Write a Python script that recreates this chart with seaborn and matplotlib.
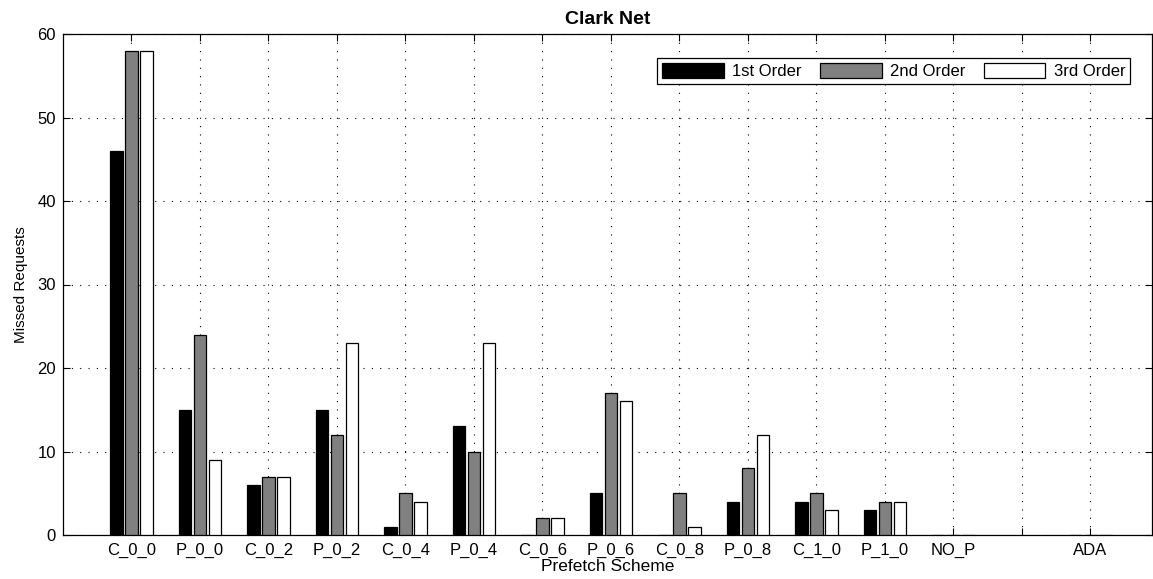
import matplotlib
matplotlib.use("Agg")
import matplotlib.pyplot as plt
import seaborn as sns
import pandas as pd
import numpy as np

# Tick slots along the x axis ('' = unlabeled slot)
tick_labels = ['C_0_0', 'P_0_0', 'C_0_2', 'P_0_2', 'C_0_4', 'P_0_4', 'C_0_6',
               'P_0_6', 'C_0_8', 'P_0_8', 'C_1_0', 'P_1_0', 'NO_P', '', 'ADA']
schemes = ['C_0_0', 'P_0_0', 'C_0_2', 'P_0_2', 'C_0_4', 'P_0_4', 'C_0_6',
           'P_0_6', 'C_0_8', 'P_0_8', 'C_1_0', 'P_1_0', 'NO_P', 'ADA']
first_order = [46, 15, 6, 15, 1, 13, 0, 5, 0, 4, 4, 3, 0, 0]
second_order = [58, 24, 7, 12, 5, 10, 2, 17, 5, 8, 5, 4, 0, 0]
third_order = [58, 9, 7, 23, 4, 23, 2, 16, 1, 12, 3, 4, 0, 0]
series_names = ['1st Order', '2nd Order', '3rd Order']
colors = ['#000000', '#808080', '#ffffff']

rows = []
for name, vals in zip(series_names, [first_order, second_order, third_order]):
    for s, v in zip(schemes, vals):
        rows.append({'pos': tick_labels.index(s) + 1, 'scheme': s,
                     'series': name, 'value': v})
df = pd.DataFrame(rows)

sns.set_style("white")
plt.rcParams['font.family'] = ['Liberation Sans', 'DejaVu Sans']
plt.rcParams['text.color'] = 'black'
plt.rcParams['axes.labelcolor'] = 'black'
plt.rcParams['xtick.color'] = 'black'
plt.rcParams['ytick.color'] = 'black'

fig = plt.figure(figsize=(11.53, 5.79), dpi=100)
ax = fig.add_axes([63 / 1153, 1 - 535 / 579, (1152 - 63) / 1153, (535 - 34) / 579])

sns.barplot(data=df, x='pos', y='value', hue='series', hue_order=series_names,
            palette=colors, native_scale=True, width=0.66, gap=0.18,
            edgecolor='black', linewidth=0.9, errorbar=None, ax=ax, zorder=3)

ax.set_xlim(0, 15.9)
ax.set_ylim(0, 60)
ax.set_xticks(np.arange(1, len(tick_labels) + 1))
ax.set_xticklabels(tick_labels, fontsize=12)
ax.set_yticks(np.arange(0, 61, 10))
ax.set_yticklabels([str(v) for v in range(0, 61, 10)], fontsize=12)
ax.tick_params(axis='x', pad=6)
ax.tick_params(axis='y', pad=5)
ax.tick_params(direction='in', length=5, width=0.8, top=True, right=True,
               bottom=True, left=True, colors='black')
ax.grid(True, linestyle=(0, (1, 6.5)), color='black', linewidth=0.8, zorder=0)
ax.set_axisbelow(True)
for sp in ax.spines.values():
    sp.set_visible(True)
    sp.set_color('black')
    sp.set_linewidth(0.9)

ax.set_xlabel('Prefetch Scheme', fontsize=12.5, labelpad=0.5, color='black')
ax.set_ylabel('Missed Requests', fontsize=11, labelpad=7, color='black')
ax.set_title('Clark Net', fontsize=14, fontweight='bold', pad=7, color='black')

leg = ax.legend(loc='upper right', bbox_to_anchor=(0.98, 0.952), ncol=3,
                fontsize=12, frameon=True, fancybox=False, handlelength=3.7,
                handleheight=1.0, columnspacing=1.1, handletextpad=0.5,
                borderpad=0.3, borderaxespad=0, labelcolor='black')
leg.get_frame().set_edgecolor('black')
leg.get_frame().set_linewidth(0.9)
leg.get_frame().set_alpha(1)

fig.savefig('out.png', dpi=100)
